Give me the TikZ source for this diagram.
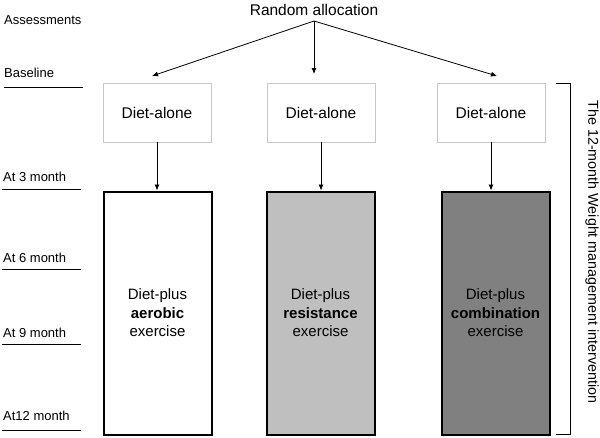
\documentclass[tikz,border=0pt]{standalone}
\usepackage{fontspec}
\setmainfont{Liberation Sans}
\usetikzlibrary{arrows.meta}
\begin{document}
\begin{tikzpicture}[x=1pt,y=-1pt,
  arr/.style={draw=black,line width=0.8pt,-{Latex[length=6pt,width=5pt]}},
  alonebox/.style={draw=black!22,line width=0.8pt,fill=white,minimum width=108pt,minimum height=59pt,inner sep=0pt,font=\fontsize{15.5}{18}\selectfont},
  plusbox/.style={draw=black,line width=2pt,minimum width=108pt,minimum height=243pt,inner sep=0pt,align=center,font=\fontsize{15}{18.5}\selectfont},
  sidelbl/.style={anchor=west,inner sep=0pt,font=\fontsize{13}{15}\selectfont},
  sideline/.style={draw=black,line width=0.8pt}]
\useasboundingbox (0,0) rectangle (600,437);
\node[inner sep=0pt,font=\fontsize{15.5}{18}\selectfont] (rand) at (314,10) {Random allocation};
\coordinate (apex) at (314,21);
\node[alonebox] (a1) at (157,112.5) {Diet-alone};
\node[alonebox] (a2) at (321,112.5) {Diet-alone};
\node[alonebox] (a3) at (491,112.5) {Diet-alone};
\coordinate (t1) at (152,76);
\coordinate (t2) at (314,74);
\coordinate (t3) at (497,76);
\draw[arr] (apex) -- (t1);
\draw[arr] (apex) -- (t2);
\draw[arr] (apex) -- (t3);
\node[plusbox,fill=white] (p1) at (157.5,313) {Diet-plus\\\textbf{aerobic}\\exercise};
\node[plusbox,fill=black!25] (p2) at (320.5,313) {Diet-plus\\\textbf{resistance}\\exercise};
\node[plusbox,fill=black!50] (p3) at (495.5,313) {Diet-plus\\\textbf{combination}\\exercise};
\draw[arr] (a1.south) -- (a1.south |- p1.north);
\draw[arr] (a2.south) -- (a2.south |- p2.north);
\draw[arr] (a3.south) -- (a3.south |- p3.north);
% side labels
\node[sidelbl] (ass) at (4,20) {Assessments};
\node[sidelbl] (base) at (4,73) {Baseline};
\node[sidelbl] (m3) at (3,177) {At 3 month};
\node[sidelbl] (m6) at (3,258) {At 6 month};
\node[sidelbl] (m9) at (3,333) {At 9 month};
\node[sidelbl] (m12) at (3,416) {At12 month};
\draw[sideline] (4,87) -- (83,87);
\draw[sideline] (2,189) -- (81,189);
\draw[sideline] (2,269) -- (81,269);
\draw[sideline] (2,344) -- (81,344);
\draw[sideline] (2,430) -- (81,430);
% bracket
\draw[line width=0.8pt] (556,83) -- (570,83) -- (570,434) -- (556,434);
\node[rotate=-90,inner sep=0pt,font=\fontsize{14.3}{17}\selectfont] (lbl) at (592,252) {The 12-month Weight management intervention};
\end{tikzpicture}
\end{document}
